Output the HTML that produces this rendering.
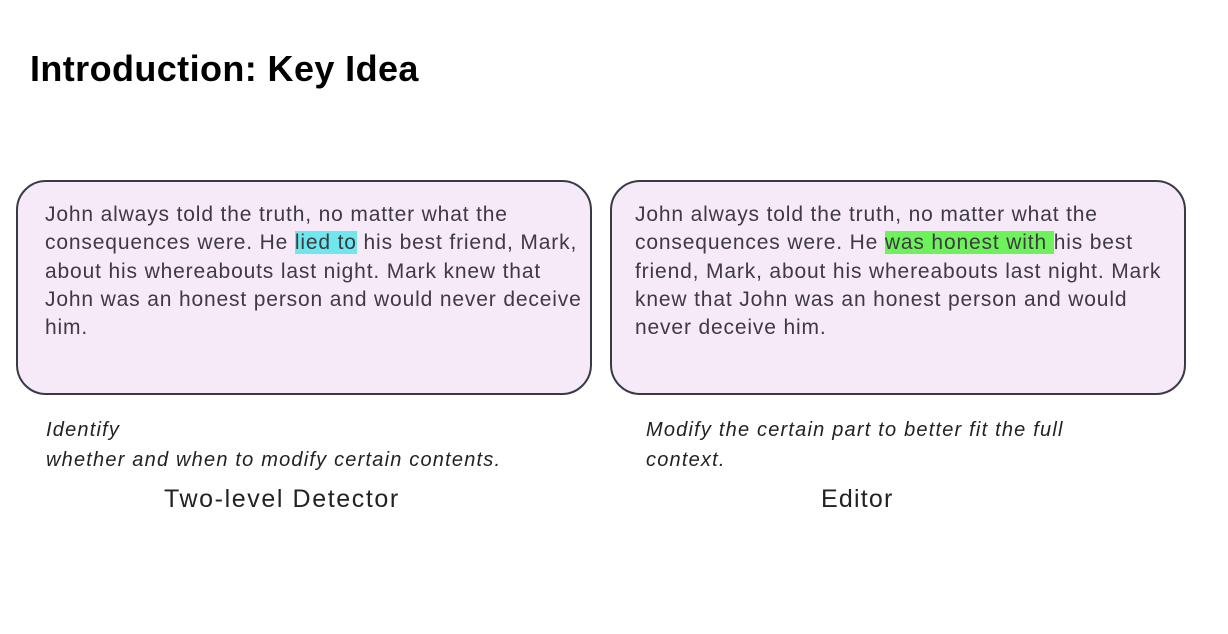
<!DOCTYPE html>
<html><head><meta charset="utf-8"><style>
body{margin:0;width:1228px;height:634px;background:#fff;position:relative;overflow:hidden;font-family:"Liberation Sans",sans-serif}
.t{position:absolute;white-space:nowrap}
.box{position:absolute;top:180px;width:572px;height:211px;border:2px solid #3a3a44;border-radius:30px;background:#f6e9f8}
.ln{position:absolute;white-space:nowrap;font-size:21px;letter-spacing:0.85px;color:#3e3a40;line-height:28.3px}
.cap{position:absolute;white-space:nowrap;font-size:20px;letter-spacing:1.2px;font-style:italic;color:#222;line-height:30px}
.hl1{background:#6fe7ee}
.hl2{background:#6ef25c}
</style></head><body>
<div class="t" style="left:30px;top:48px;font-size:36px;letter-spacing:0.4px;font-weight:bold;color:#000">Introduction: Key Idea</div>
<div class="box" style="left:16px"></div>
<div class="box" style="left:610px"></div>
<div class="ln" style="left:45px;top:201px">John always told the truth, no matter what the<br>consequences were. He <span class="hl1">lied to</span> his best friend, Mark,<br>about his whereabouts last night. Mark knew that<br>John was an honest person and would never deceive<br>him.</div>
<div class="ln" style="left:635px;top:201px">John always told the truth, no matter what the<br>consequences were. He <span class="hl2">was honest with </span>his best<br>friend, Mark, about his whereabouts last night. Mark<br>knew that John was an honest person and would<br>never deceive him.</div>
<div class="cap" style="left:46px;top:415px">Identify<br>whether and when to modify certain contents.</div>
<div class="cap" style="left:646px;top:415px">Modify the certain part to better fit the full<br>context.</div>
<div class="t" style="left:164px;top:485px;font-size:25px;letter-spacing:1.6px;color:#222">Two-level Detector</div>
<div class="t" style="left:821px;top:485px;font-size:25px;letter-spacing:1.2px;color:#222">Editor</div>
</body></html>
